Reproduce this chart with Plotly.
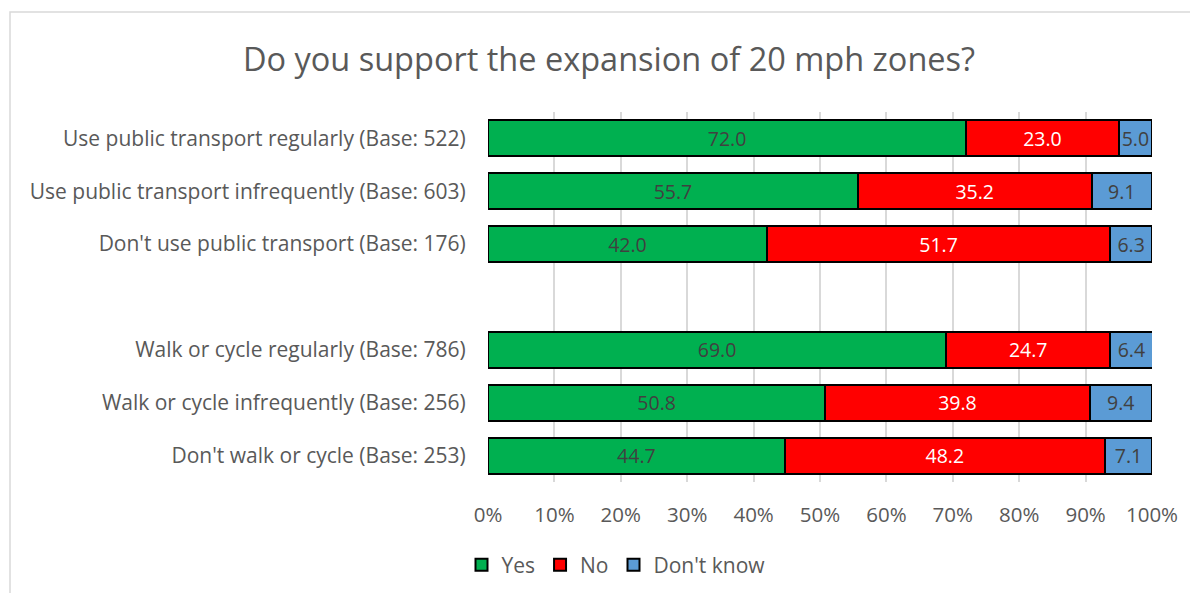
import plotly.graph_objects as go

categories = [
    "Use public transport regularly (Base: 522)",
    "Use public transport infrequently (Base: 603)",
    "Don't use public transport (Base: 176)",
    " ",
    "Walk or cycle regularly (Base: 786)",
    "Walk or cycle infrequently (Base: 256)",
    "Don't walk or cycle (Base: 253)",
]
yes = [72.0, 55.7, 42.0, None, 69.0, 50.8, 44.7]
no = [23.0, 35.2, 51.7, None, 24.7, 39.8, 48.2]
dont_know = [5.0, 9.1, 6.3, None, 6.4, 9.4, 7.1]

series = [
    ("Yes", yes, "#00B050", "#404040"),
    ("No", no, "#FF0000", "#FFFFFF"),
    ("Don't know", dont_know, "#5B9BD5", "#404040"),
]

FONT = "Open Sans"
# page has an 8px body margin, so the figure is a bit smaller than the window
W, H = 1190, 585
ML, MR, MT, MB = 480, 46, 104, 111
pw, ph = W - ML - MR, H - MT - MB

fig = go.Figure()
for name, vals, color, tcolor in series:
    fig.add_trace(go.Bar(
        y=categories, x=vals, name=name, orientation="h",
        marker=dict(color=color, line=dict(color="#000000", width=2)),
        text=[f"{v:.1f}" if v is not None else "" for v in vals],
        textposition="inside", insidetextanchor="middle", textangle=0,
        textfont=dict(family=FONT, size=19.5, color=tcolor),
        constraintext="none",
        width=0.68,
    ))

# light border round the chart area (Excel style)
fig.add_shape(
    type="rect", xref="paper", yref="paper",
    x0=(2 - ML) / pw, x1=(1205 - ML) / pw,
    y0=(H - MB - 600) / ph, y1=(H - MB - 4) / ph,
    line=dict(color="#D9D9D9", width=1.5), layer="below",
)

fig.update_layout(
    barmode="stack",
    width=W, height=H,
    margin=dict(l=ML, r=MR, t=MT, b=MB, autoexpand=False),
    paper_bgcolor="white", plot_bgcolor="white",
    title=dict(text="Do you support the expansion of 20 mph zones?",
               x=601 / W, xanchor="center", y=1 - 52 / H, yanchor="middle",
               font=dict(family=FONT, size=32.5, color="#595959")),
    font=dict(family=FONT, color="#595959"),
    legend=dict(orientation="h", x=(608 - ML) / pw, xanchor="center",
                y=-83 / ph, yanchor="middle",
                font=dict(family=FONT, size=21, color="#595959"),
                traceorder="normal", itemwidth=30, tracegroupgap=0),
    uniformtext=dict(mode="show", minsize=19.5),
)
fig.update_xaxes(
    range=[0, 100], dtick=10, ticksuffix="%",
    showgrid=True, gridcolor="#D9D9D9", gridwidth=1.5,
    zeroline=False, showline=False,
    tickfont=dict(family=FONT, size=20.5, color="#595959"),
    ticks="outside", ticklen=14, tickcolor="white",
)
fig.update_yaxes(
    autorange="reversed", showgrid=False, showline=False,
    tickfont=dict(family=FONT, size=21, color="#595959"),
    ticks="outside", ticklen=17, tickcolor="white",
)

fig.write_html("out.html")
